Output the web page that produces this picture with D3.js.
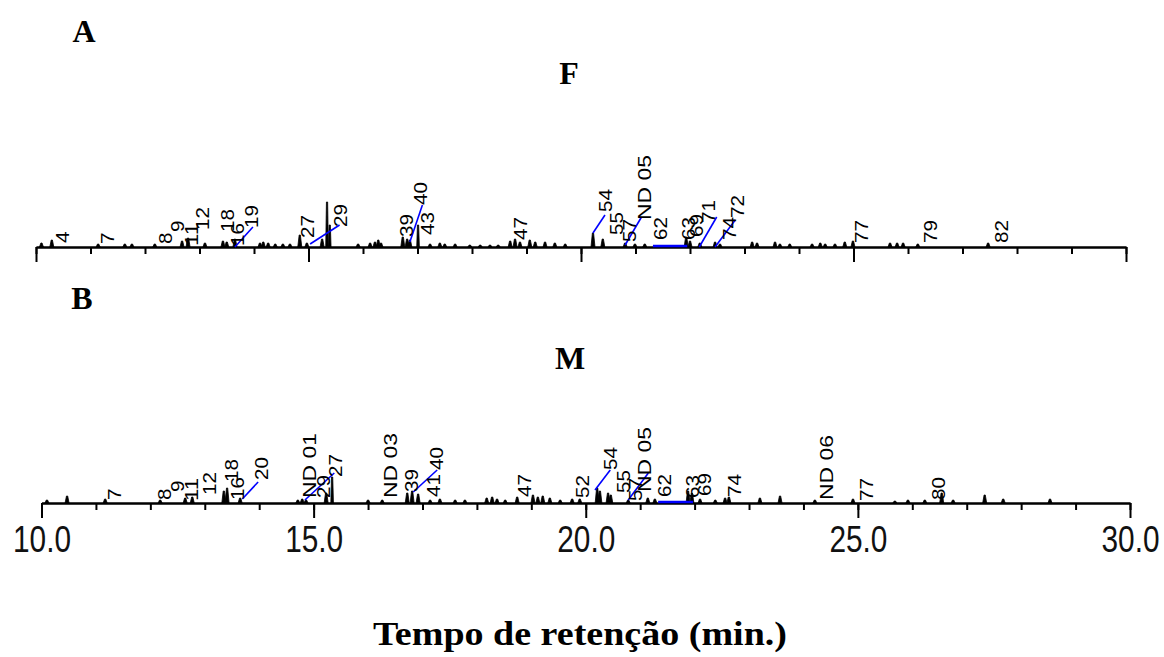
<!DOCTYPE html>
<html>
<head>
<meta charset="utf-8">
<script src="https://cdn.jsdelivr.net/npm/d3@7"></script>
<style>
  body { margin: 0; background: #fff; }
  svg { display: block; }
</style>
</head>
<body>
<svg id="chart" width="1164" height="657"></svg>
<script>
// ---- Retention-time axis ----
const timeDomain = [10, 30];
const majorTicks = [10, 15, 20, 25, 30];
const minorTicks = d3.range(10, 31, 1);

// ---- Chromatogram F (panel A): peak retention times (min) and heights ----
const peakTimesF = [10.10, 10.29, 11.14, 11.63, 11.76, 12.18, 12.68, 12.79, 13.10, 13.43, 13.50, 13.65,
  14.11, 14.17, 14.26, 14.39, 14.53, 14.66, 14.84, 14.97, 15.25, 15.34, 15.39, 15.91, 16.13, 16.22,
  16.28, 16.33, 16.73, 16.81, 16.86, 17.01, 17.23, 17.41, 17.50, 17.69, 17.96, 18.15, 18.33, 18.48,
  18.70, 18.79, 18.88, 19.06, 19.16, 19.34, 19.52, 19.71, 20.22, 20.40, 20.81, 20.99, 21.17, 21.93,
  22.00, 22.18, 22.46, 22.55, 23.14, 23.23, 23.56, 23.65, 23.83, 24.24, 24.39, 24.48, 24.66, 24.84,
  24.99, 25.67, 25.80, 25.91, 26.18, 27.47];
const peakHeightsF = [4, 7, 3, 3, 3, 3, 6, 9, 4, 6, 5, 8,
  4, 5, 4, 3, 3, 3, 12, 4, 8, 45, 22, 3, 4, 5,
  7, 4, 10, 8, 7, 22, 3, 4, 3, 3, 2, 2, 2, 2,
  6, 8, 5, 7, 5, 5, 4, 3, 14, 8, 4, 3, 3, 10,
  6, 4, 5, 3, 5, 4, 5, 3, 3, 3, 4, 3, 3, 5,
  6, 4, 4, 4, 3, 4];

// Peak labels for F: text, position (min) and height of the label foot
const labelTextF = ["4", "7", "8", "9", "11", "12", "18", "16", "19", "27", "29", "39", "40", "43", "47",
  "54", "55", "57", "ND 05", "62", "63", "69", "71", "74", "72", "77", "79", "82"];
const labelTimeF = [10.50, 11.32, 12.39, 12.61, 12.86, 13.06, 13.52, 13.71, 13.96, 14.99, 15.60, 16.81,
  17.06, 17.19, 18.90, 20.46, 20.66, 20.90, 21.17, 21.47, 21.98, 22.13, 22.35, 22.73, 22.88, 25.16,
  26.42, 27.72];
const labelLiftF = [4, 3, 3, 15, 1, 17, 15, 1, 19, 9, 20, 10, 42, 12, 7, 35, 12, 5, 27, 7, 7, 10, 24, 7,
  29, 4, 4, 4];

// Leader lines for F: [time, height] start and end
const leaderFromF = [[13.65, 0], [15.03, 3], [16.86, 5], [20.22, 14], [20.81, 2], [21.32, 1], [22.17, 0], [22.46, 0]];
const leaderToF = [[13.98, 20], [15.57, 22], [17.09, 42], [20.44, 32], [21.11, 30], [21.95, 1], [22.49, 30], [22.83, 27]];

// ---- Chromatogram M (panel B) ----
const peakTimesM = [10.10, 10.47, 11.17, 12.18, 12.64, 12.77, 13.35, 13.41, 13.65, 14.71, 14.79, 14.86,
  15.23, 15.34, 16.00, 16.26, 16.72, 16.81, 16.92, 17.14, 17.32, 17.60, 17.78, 18.18, 18.28, 18.37,
  18.52, 18.74, 19.03, 19.12, 19.21, 19.34, 19.53, 19.75, 19.89, 20.21, 20.26, 20.41, 20.46, 20.78,
  21.14, 21.27, 21.88, 21.95, 22.10, 22.38, 22.56, 22.63, 23.20, 23.57, 24.21, 24.91, 25.68, 25.92,
  26.23, 26.54, 26.75, 27.33, 27.67, 28.53];
const peakHeightsM = [3, 7, 4, 3, 5, 6, 12, 15, 5, 3, 4, 3,
  10, 26, 3, 3, 10, 12, 9, 3, 4, 3, 3, 5, 6, 4,
  3, 6, 8, 6, 7, 5, 3, 4, 4, 15, 12, 10, 8, 3,
  5, 4, 12, 10, 4, 3, 5, 6, 5, 7, 3, 4, 2, 3,
  3, 10, 3, 8, 4, 4];

const labelTextM = ["7", "8", "9", "11", "12", "18", "16", "20", "ND 01", "29", "27", "ND 03", "39", "41",
  "40", "47", "52", "54", "55", "57", "ND 05", "62", "63", "69", "74", "ND 06", "77", "80"];
const labelTimeM = [11.35, 12.27, 12.51, 12.77, 13.10, 13.50, 13.61, 14.05, 14.93, 15.19, 15.41, 16.42,
  16.81, 17.21, 17.27, 18.88, 19.95, 20.46, 20.70, 20.93, 21.09, 21.46, 21.97, 22.19, 22.74, 24.43,
  25.17, 26.49];
const labelLiftM = [3, 3, 11, 2, 8, 21, 3, 23, 5, 5, 26, 5, 11, 6, 33, 6, 5, 33, 10, 2, 11, 6, 5, 7, 6,
  3, 2, 3];

const leaderFromM = [[13.69, 4], [14.84, 3], [16.83, 11], [20.17, 13], [20.78, 3], [21.33, 1]];
const leaderToM = [[13.98, 21], [15.38, 30], [17.27, 33], [20.45, 33], [21.15, 30], [21.97, 1]];

const svg = d3.select("#chart");

function drawPanel(p) {
  const x = d3.scaleLinear().domain(timeDomain).range(p.xRange);
  const y = d3.scaleLinear().domain([0, 100]).range([p.baseline, p.baseline - 100]);
  const g = svg.append("g");

  // peaks as narrow spikes
  const peaks = d3.zip(p.times, p.heights);
  g.append("g").selectAll("path").data(peaks).join("path")
    .attr("d", d => {
      const cx = x(d[0]), w = d[1] > 15 ? 1.3 : 2;
      return `M${cx - w},${y(0)}L${cx - 0.6},${y(d[1])}L${cx + 0.6},${y(d[1])}L${cx + w},${y(0)}Z`;
    })
    .attr("fill", "#000").attr("stroke", "#000").attr("stroke-width", 0.8);

  // axis: minor and major ticks
  const minor = d3.axisBottom(x).tickValues(minorTicks).tickSize(7).tickSizeOuter(0).tickFormat("");
  const major = d3.axisBottom(x).tickValues(majorTicks).tickSize(15).tickSizeOuter(0)
    .tickPadding(8).tickFormat(p.showLabels ? d3.format(".1f") : "");
  const ga = g.append("g").attr("transform", `translate(0,${p.baseline})`);
  ga.append("g").call(minor);
  const gm = ga.append("g").call(major);
  ga.selectAll("path, line").attr("stroke", "#000").attr("stroke-width", 2);
  gm.selectAll("text")
    .attr("font-family", "'Liberation Sans', Arial, sans-serif")
    .attr("font-size", 36).attr("fill", "#111")
    .attr("textLength", 58).attr("lengthAdjust", "spacingAndGlyphs");

  // leader lines
  g.append("g").selectAll("line").data(d3.zip(p.leaderFrom, p.leaderTo)).join("line")
    .attr("x1", d => x(d[0][0])).attr("y1", d => y(d[0][1]))
    .attr("x2", d => x(d[1][0])).attr("y2", d => y(d[1][1]))
    .attr("stroke", "#0000ff").attr("stroke-width", d => d[0][1] === d[1][1] ? 2.5 : 1.6);

  // rotated peak labels
  const labels = d3.zip(p.labelText, p.labelTime, p.labelLift);
  g.append("g").selectAll("text").data(labels).join("text")
    .attr("transform", d => `translate(${x(d[1])},${y(d[2])}) rotate(-90)`)
    .attr("dominant-baseline", "central")
    .attr("font-family", "'Liberation Sans', Arial, sans-serif")
    .attr("font-size", 18).attr("fill", "#000")
    .attr("textLength", d => d[0].startsWith("ND") ? 65 : d[0].length * 11.5)
    .attr("lengthAdjust", "spacingAndGlyphs")
    .text(d => d[0]);

  // panel letter and sample name
  svg.append("text").attr("x", p.letterX).attr("y", p.letterY)
    .attr("text-anchor", "middle")
    .attr("font-family", "'Liberation Serif', 'Times New Roman', serif")
    .attr("font-weight", "bold").attr("font-size", 32).text(p.letter);
  svg.append("text").attr("x", p.nameX).attr("y", p.nameY)
    .attr("text-anchor", "middle")
    .attr("font-family", "'Liberation Serif', 'Times New Roman', serif")
    .attr("font-weight", "bold").attr("font-size", 32).text(p.name);
}

drawPanel({
  xRange: [36, 1126], baseline: 247, showLabels: false,
  times: peakTimesF, heights: peakHeightsF,
  labelText: labelTextF, labelTime: labelTimeF, labelLift: labelLiftF,
  leaderFrom: leaderFromF, leaderTo: leaderToF,
  letter: "A", letterX: 84, letterY: 42, name: "F", nameX: 569, nameY: 84
});

drawPanel({
  xRange: [41.5, 1130], baseline: 503, showLabels: true,
  times: peakTimesM, heights: peakHeightsM,
  labelText: labelTextM, labelTime: labelTimeM, labelLift: labelLiftM,
  leaderFrom: leaderFromM, leaderTo: leaderToM,
  letter: "B", letterX: 82, letterY: 309, name: "M", nameX: 570, nameY: 369
});

// x-axis title
svg.append("text").attr("x", 580).attr("y", 645)
  .attr("text-anchor", "middle")
  .attr("font-family", "'Liberation Serif', 'Times New Roman', serif")
  .attr("font-weight", "bold").attr("font-size", 34)
  .attr("textLength", 414).attr("lengthAdjust", "spacingAndGlyphs")
  .text("Tempo de retenção (min.)");
</script>
</body>
</html>
